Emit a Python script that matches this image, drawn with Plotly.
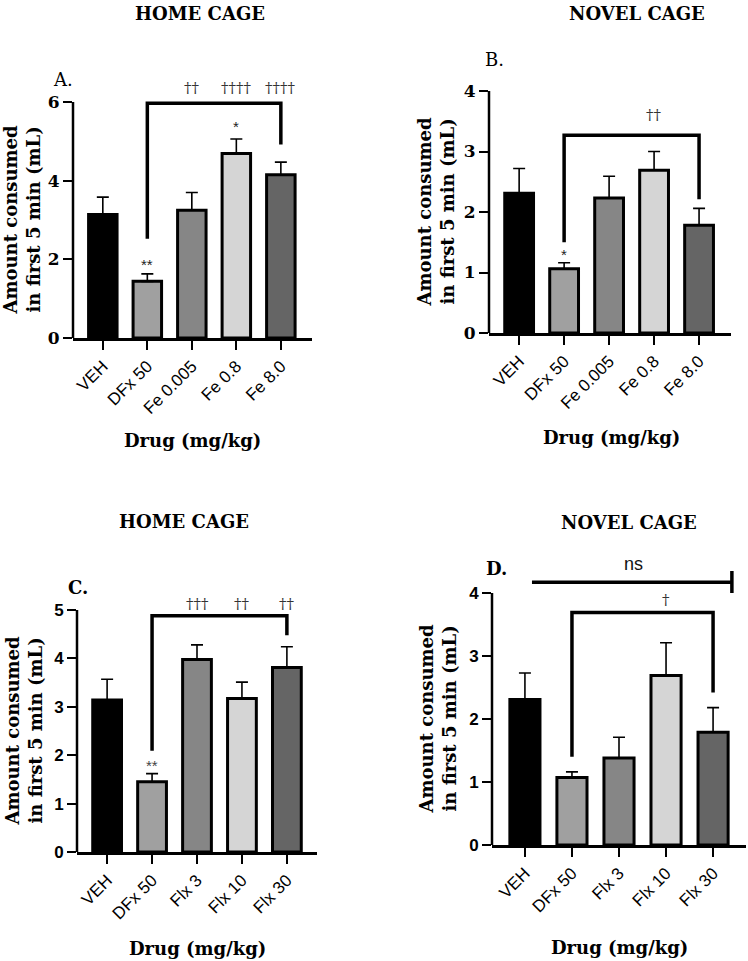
import plotly.graph_objects as go

# ---------------- data ----------------
cats_fe = ["VEH", "DFx 50", "Fe 0.005", "Fe 0.8", "Fe 8.0"]
cats_flx = ["VEH", "DFx 50", "Flx 3", "Flx 10", "Flx 30"]

a_vals = [3.14, 1.44, 3.25, 4.69, 4.15]
a_err = [0.44, 0.19, 0.45, 0.37, 0.32]

b_vals = [2.31, 1.06, 2.23, 2.69, 1.78]
b_err = [0.41, 0.10, 0.36, 0.31, 0.28]

c_vals = [3.14, 1.45, 3.98, 3.17, 3.81]
c_err = [0.43, 0.17, 0.30, 0.34, 0.43]

d_vals = [2.31, 1.07, 1.38, 2.69, 1.79]
d_err = [0.42, 0.09, 0.33, 0.52, 0.39]

bar_colors = ["#000000", "#a0a0a0", "#868686", "#d5d5d5", "#656565"]

W, H = 748, 961
SERIF = "DejaVu Serif"
SANS = "Liberation Sans"


def px(x):
    return x / W


def py(y):
    return 1 - y / H


fig = go.Figure()

panels = [
    dict(n="", cats=cats_fe, vals=a_vals, err=a_err, xd=(73, 312), yb=338, yt=82.3,
         xr=(-0.67, 4.70), yr=(0, 6.5), yticks=[0, 2, 4, 6], tf=SERIF),
    dict(n="2", cats=cats_fe, vals=b_vals, err=b_err, xd=(489, 731), yb=333, yt=91,
         xr=(-0.67, 4.71), yr=(0, 4), yticks=[0, 1, 2, 3, 4], tf=SERIF),
    dict(n="3", cats=cats_flx, vals=c_vals, err=c_err, xd=(77, 317), yb=852, yt=595.5,
         xr=(-0.67, 4.67), yr=(0, 5.3), yticks=[0, 1, 2, 3, 4, 5], tf=SANS),
    dict(n="4", cats=cats_flx, vals=d_vals, err=d_err, xd=(492, 746), yb=845, yt=555.2,
         xr=(-0.70, 4.70), yr=(0, 4.6), yticks=[0, 1, 2, 3, 4], tf=SANS),
]

layout = dict(
    width=W, height=H, autosize=False, margin=dict(l=0, r=0, t=0, b=0, pad=0),
    paper_bgcolor="white", plot_bgcolor="white", showlegend=False,
)
shapes = []

for p in panels:
    n = p["n"]
    xa, ya = "x" + n, "y" + n
    idx = list(range(len(p["cats"])))
    fig.add_trace(go.Bar(
        x=idx, y=p["vals"], xaxis=xa, yaxis=ya, width=0.64,
        marker=dict(color=bar_colors, line=dict(color="black", width=3)),
        error_y=dict(type="data", array=p["err"], arrayminus=[0] * 5, symmetric=False,
                     color="black", thickness=1.6, width=6),
    ))
    layout["xaxis" + n] = dict(
        domain=[px(p["xd"][0]), px(p["xd"][1])], anchor=ya, range=list(p["xr"]),
        automargin=False,
        tickmode="array", tickvals=idx, ticktext=p["cats"], tickangle=-45,
        ticks="outside", ticklen=9, tickwidth=2, tickcolor="black",
        showline=True, linewidth=2.5, linecolor="black", showgrid=False, zeroline=False,
        tickfont=dict(family=SANS, size=17, color="black"),
    )
    layout["yaxis" + n] = dict(
        domain=[py(p["yb"]), py(p["yt"])], anchor=xa, range=list(p["yr"]),
        automargin=False,
        tickmode="array", tickvals=p["yticks"], ticks="outside", ticklen=9, tickwidth=2,
        tickcolor="black", showline=False, showgrid=False, zeroline=False,
        tickfont=dict(family=p["tf"], size=17, color="black", weight="bold"),
    )
    shapes.append(dict(type="line", xref=xa + " domain", yref=ya, x0=0, x1=0,
                       y0=0, y1=p["yticks"][-1], line=dict(color="black", width=2.5)))


def bracket(n, x0, x1, ytop, yl, yr, w=3.5):
    xa, ya = "x" + n, "y" + n
    shapes.append(dict(type="path", xref=xa, yref=ya,
                       path=f"M {x0},{yl} L {x0},{ytop} L {x1},{ytop} L {x1},{yr}",
                       line=dict(color="black", width=w)))


bracket("", 1, 4, 5.97, 2.52, 4.92)
bracket("2", 1, 4, 3.27, 1.50, 2.21)
bracket("3", 1, 4, 4.88, 2.09, 4.48)
bracket("4", 1, 4, 3.69, 1.40, 2.42)
shapes.append(dict(type="line", xref="x4", yref="y4", x0=0.15, x1=4.40, y0=4.17, y1=4.17,
                   line=dict(color="black", width=3.5)))
shapes.append(dict(type="line", xref="x4", yref="y4", x0=4.40, x1=4.40, y0=4.0, y1=4.35,
                   line=dict(color="black", width=3.5)))

layout["shapes"] = shapes

ann = []


def note(n, x, y, text, size=15, family=SERIF, color="#333333"):
    ann.append(dict(xref="x" + n, yref="y" + n, x=x, y=y, text=text, showarrow=False,
                    xanchor="center", yanchor="middle",
                    font=dict(family=family, size=size, color=color)))


note("", 2, 6.36, "††")
note("", 3, 6.36, "††††")
note("", 4, 6.36, "††††")
note("", 3, 5.38, "*", family=SANS, size=15, color="#222")
note("", 1, 1.88, "**", family=SANS, size=15, color="#222")
note("2", 3, 3.60, "††")
note("2", 1, 1.29, "*", family=SANS, size=15, color="#222")
note("3", 2, 5.12, "†††")
note("3", 3, 5.12, "††")
note("3", 4, 5.12, "††")
note("3", 1, 1.79, "**", family=SANS, size=15, color="#444")
note("4", 3, 3.89, "†")
note("4", 2.3, 4.46, "ns", family=SANS, size=18, color="#111")


def ptext(x, y, text, size=18, bold=True, angle=0, family=SERIF):
    ann.append(dict(xref="paper", yref="paper", x=px(x), y=py(y), text=text,
                    showarrow=False, xanchor="center", yanchor="middle", textangle=angle,
                    font=dict(family=family, size=size, color="black",
                              weight="bold" if bold else "normal")))


ptext(200, 14, "HOME CAGE")
ptext(637, 13, "NOVEL CAGE")
ptext(184, 521, "HOME CAGE")
ptext(629, 522, "NOVEL CAGE")
ptext(63, 80, "A.", bold=False)
ptext(494, 60, "B.", bold=False)
ptext(78, 587, "C.")
ptext(496, 568, "D.")
ytitle = "Amount consumed<br>in first 5 min (mL)"
ptext(21.5, 220, ytitle, angle=-90)
ptext(435.5, 212, ytitle, angle=-90)
ptext(23.5, 731, ytitle, angle=-90)
ptext(437.5, 718, ytitle, angle=-90)
ptext(193, 440, "Drug (mg/kg)")
ptext(611, 437, "Drug (mg/kg)")
ptext(197, 948, "Drug (mg/kg)")
ptext(619, 947, "Drug (mg/kg)")

layout["annotations"] = ann
fig.update_layout(**layout)

page_fix = (
    "document.documentElement.style.margin='0';"
    "document.body.style.margin='0';"
    "document.documentElement.style.overflow='hidden';"
    "document.body.style.overflow='hidden';"
    "var g=document.getElementsByClassName('plotly-graph-div')[0];"
    "g.style.position='fixed';g.style.left='0px';g.style.top='0px';"
)
fig.write_html("out.html", config={"displayModeBar": False}, post_script=page_fix)
